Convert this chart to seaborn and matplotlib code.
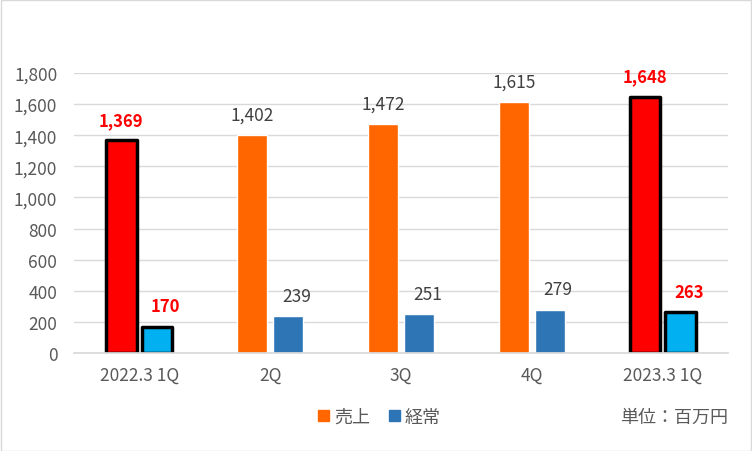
import pandas as pd
import seaborn as sns
import matplotlib.pyplot as plt
from matplotlib.patches import Patch, Rectangle

# データ
quarters = ['2022.3 1Q', '2Q', '3Q', '4Q', '2023.3 1Q']
sales = [1369, 1402, 1472, 1615, 1648]      # 売上
ordinary = [170, 239, 251, 279, 263]         # 経常
highlight = [True, False, False, False, True]

df = pd.DataFrame({
    'quarter': quarters * 2,
    'value': sales + ordinary,
    'kind': ['売上'] * len(quarters) + ['経常'] * len(quarters),
})

sns.set_theme(style='white')
plt.rcParams['font.family'] = ['Noto Sans CJK JP', 'DejaVu Sans']

fig = plt.figure(figsize=(7.52, 4.52), dpi=100)
ax = fig.add_axes([74 / 752, 98 / 452, 654 / 752, 280 / 452])

orange, blue = '#FF6600', '#2E75B6'
sns.barplot(data=df, x='quarter', y='value', hue='kind', order=quarters,
            palette=[orange, blue], saturation=1, width=0.55, gap=0.16,
            legend=False, ax=ax)

# 強調する四半期は赤/水色 + 黒枠
n = len(quarters)
for i, bar in enumerate(ax.patches[:2 * n]):
    k = i % n
    if highlight[k]:
        bar.set_facecolor('#FF0000' if i < n else '#00B0F0')
        bar.set_edgecolor('black')
        bar.set_linewidth(2.5)
        bar.set_joinstyle('round')

# 値ラベル (経常のラベルは少し右寄り)
for i, bar in enumerate(ax.patches[:2 * n]):
    k = i % n
    val = sales[k] if i < n else ordinary[k]
    hl = highlight[k]
    dx = 0 if i < n else 6
    ax.annotate(f'{val:,}', (bar.get_x() + bar.get_width() / 2, val),
                xytext=(dx, 8), textcoords='offset points', ha='center', va='bottom',
                fontsize=12 if hl else 12.5, color='#FF0000' if hl else '#404040',
                fontweight='bold' if hl else 'normal')

ax.set_ylim(0, 1800)
ax.set_yticks(range(0, 1801, 200))
ax.yaxis.set_major_formatter(plt.FuncFormatter(lambda v, p: f'{int(v):,}'))
ax.grid(axis='y', color='#D9D9D9', linewidth=1)
ax.set_axisbelow(True)
for s in ['top', 'right', 'left']:
    ax.spines[s].set_visible(False)
ax.spines['bottom'].set_color('#D9D9D9')
ax.tick_params(axis='both', length=0, labelsize=12.5, labelcolor='#595959')
ax.tick_params(axis='x', pad=9)
ax.tick_params(axis='y', pad=12)
ax.set_xlabel('')
ax.set_ylabel('')

handles = [Patch(color=orange, label='売上'), Patch(color=blue, label='経常')]
fig.legend(handles=handles, loc='center', bbox_to_anchor=(0.505, 0.075), ncol=2,
           frameon=False, fontsize=13, labelcolor='#595959', handlelength=0.6,
           handleheight=0.6, handletextpad=0.3, columnspacing=1.0)

fig.text(728 / 752, 0.075, '単位：百万円', ha='right', va='center', fontsize=13,
         color='#595959')

fig.patches.append(Rectangle((0.001, 0.001), 0.998, 0.997, transform=fig.transFigure,
                             fill=False, edgecolor='#D9D9D9', linewidth=1))

plt.savefig('out.png', dpi=100)
